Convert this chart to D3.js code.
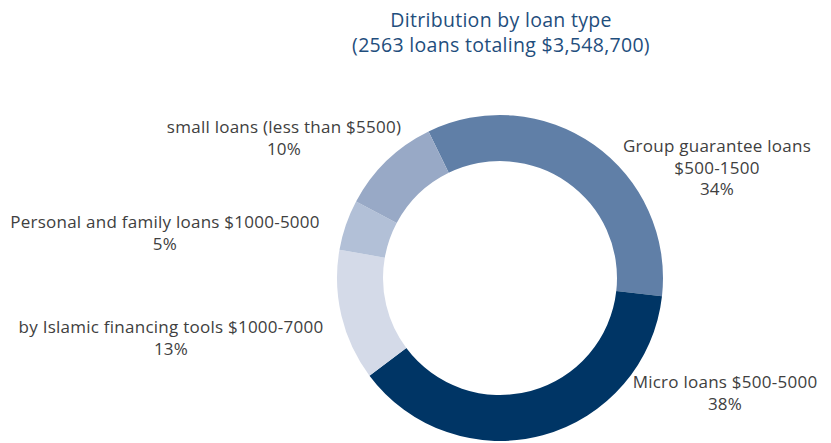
<!DOCTYPE html>
<html>
<head>
<meta charset="utf-8">
<script src="https://cdn.jsdelivr.net/npm/d3@7"></script>
<style>
  body { margin: 0; background: #fff; }
  svg { display: block; }
  text { font-family: "Open Sans", "Liberation Sans", sans-serif; }
</style>
</head>
<body>
<script>
// chart data
var categories = [
  ["Group guarantee loans", "$500-1500"],
  ["Micro loans $500-5000"],
  ["by Islamic financing tools $1000-7000"],
  ["Personal and family loans $1000-5000"],
  ["small loans (less than $5500)"]
];
var percents = [34, 38, 13, 5, 10];
var colors = ["#607fa7", "#003565", "#d4dae8", "#b2c0d7", "#98a9c6"];
var titleLines = ["Ditribution by loan type", "(2563 loans totaling $3,548,700)"];

// label centres, placed like the original
var labelPos = [[717, 152], [725, 388], [171, 333], [165, 228], [284, 133]];

var width = 831, height = 443;
var cx = 500, cy = 278;
var outerR = 163, innerR = 117;

var svg = d3.select("body").append("svg")
  .attr("width", width)
  .attr("height", height);

// title
svg.append("g").selectAll("text")
  .data(titleLines)
  .enter().append("text")
  .attr("x", 501)
  .attr("y", function(d, i) { return 27 + i * 25; })
  .attr("text-anchor", "middle")
  .style("font-size", "19.5px")
  .style("letter-spacing", "0.3px")
  .style("fill", "#1f4e7d")
  .text(function(d) { return d; });

var startAngle = -26 * Math.PI / 180;

var pie = d3.pie()
  .sort(null)
  .value(function(d) { return d; })
  .startAngle(startAngle)
  .endAngle(startAngle + 2 * Math.PI);

var arc = d3.arc()
  .innerRadius(innerR)
  .outerRadius(outerR);

var g = svg.append("g")
  .attr("transform", "translate(" + cx + "," + cy + ")");

g.selectAll("path")
  .data(pie(percents))
  .enter().append("path")
  .attr("d", arc)
  .style("fill", function(d, i) { return colors[i]; });

// data labels
var labels = svg.append("g").selectAll("text")
  .data(categories)
  .enter().append("text")
  .attr("text-anchor", "middle")
  .attr("x", function(d, i) { return labelPos[i][0]; })
  .attr("y", function(d, i) { return labelPos[i][1]; })
  .style("font-size", "17px")
  .style("letter-spacing", "0.25px")
  .style("fill", "#404040");

labels.each(function(d, i) {
  var t = d3.select(this);
  var lines = d.concat([percents[i] + "%"]);
  lines.forEach(function(line, j) {
    t.append("tspan")
      .attr("x", labelPos[i][0])
      .attr("dy", j === 0 ? 0 : 21.5)
      .text(line);
  });
});
</script>
</body>
</html>
